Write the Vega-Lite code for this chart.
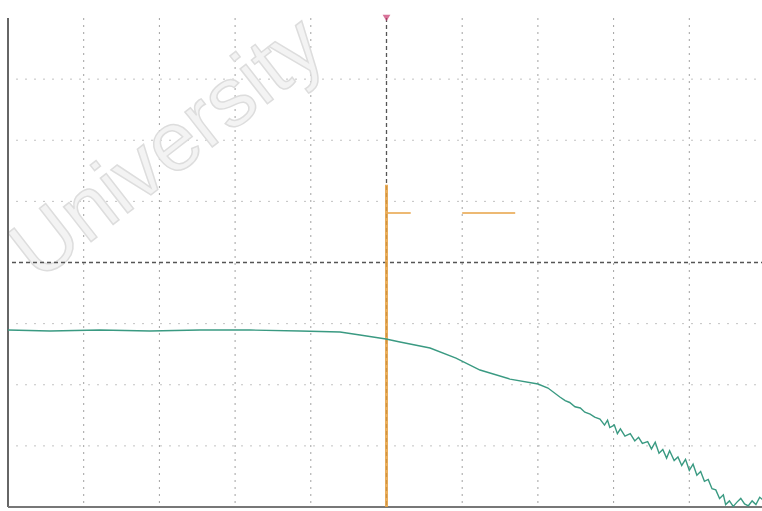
{
  "$schema": "https://vega.github.io/schema/vega-lite/v6.json",
  "width": 757,
  "height": 489,
  "autosize": {"type": "none"},
  "padding": {"left": 8, "top": 18, "right": 0, "bottom": 4},
  "background": "white",
  "config": {"view": {"stroke": null}},
  "datasets": {
    "trace": [
      {"x": 0, "y": -1.105}, {"x": 0.555, "y": -1.121}, {"x": 1.215, "y": -1.105}, {"x": 1.876, "y": -1.121},
      {"x": 2.536, "y": -1.105}, {"x": 3.197, "y": -1.105}, {"x": 3.857, "y": -1.121}, {"x": 4.386, "y": -1.137},
      {"x": 4.65, "y": -1.186}, {"x": 4.993, "y": -1.252}, {"x": 5.178, "y": -1.301}, {"x": 5.575, "y": -1.399},
      {"x": 5.918, "y": -1.563}, {"x": 6.235, "y": -1.759}, {"x": 6.631, "y": -1.907}, {"x": 7.001, "y": -1.988},
      {"x": 7.133, "y": -2.054}, {"x": 7.29, "y": -2.2}, {"x": 7.36, "y": -2.26}, {"x": 7.42, "y": -2.29},
      {"x": 7.49, "y": -2.36}, {"x": 7.56, "y": -2.38}, {"x": 7.62, "y": -2.45}, {"x": 7.69, "y": -2.48},
      {"x": 7.75, "y": -2.53}, {"x": 7.82, "y": -2.56}, {"x": 7.88, "y": -2.66}, {"x": 7.92, "y": -2.58},
      {"x": 7.95, "y": -2.7}, {"x": 8.01, "y": -2.66}, {"x": 8.05, "y": -2.8}, {"x": 8.09, "y": -2.72},
      {"x": 8.15, "y": -2.84}, {"x": 8.22, "y": -2.8}, {"x": 8.28, "y": -2.92}, {"x": 8.33, "y": -2.86},
      {"x": 8.38, "y": -2.96}, {"x": 8.45, "y": -2.93}, {"x": 8.5, "y": -3.05}, {"x": 8.55, "y": -2.94},
      {"x": 8.6, "y": -3.12}, {"x": 8.65, "y": -3.06}, {"x": 8.7, "y": -3.2}, {"x": 8.74, "y": -3.08},
      {"x": 8.8, "y": -3.24}, {"x": 8.85, "y": -3.18}, {"x": 8.9, "y": -3.32}, {"x": 8.95, "y": -3.22},
      {"x": 9.0, "y": -3.4}, {"x": 9.05, "y": -3.3}, {"x": 9.1, "y": -3.48}, {"x": 9.15, "y": -3.42},
      {"x": 9.2, "y": -3.58}, {"x": 9.25, "y": -3.55}, {"x": 9.3, "y": -3.7}, {"x": 9.35, "y": -3.72},
      {"x": 9.4, "y": -3.86}, {"x": 9.45, "y": -3.8}, {"x": 9.48, "y": -3.96}, {"x": 9.53, "y": -3.9},
      {"x": 9.58, "y": -3.99}, {"x": 9.63, "y": -3.92}, {"x": 9.68, "y": -3.86}, {"x": 9.73, "y": -3.95},
      {"x": 9.78, "y": -3.98}, {"x": 9.83, "y": -3.9}, {"x": 9.88, "y": -3.96}, {"x": 9.93, "y": -3.84},
      {"x": 9.97, "y": -3.88}
    ],
    "vgrid": [{"x": 1}, {"x": 2}, {"x": 3}, {"x": 4}, {"x": 6}, {"x": 7}, {"x": 8}, {"x": 9}],
    "hgrid": [{"y": -3}, {"y": -2}, {"y": -1}, {"y": 1}, {"y": 2}, {"y": 3}],
    "orangeH": [{"x": 5.0, "x2": 5.32, "y": 0.81}, {"x": 6.0, "x2": 6.7, "y": 0.81}]
  },
  "layer": [
    {
      "data": {"name": "vgrid"},
      "mark": {"type": "rule", "color": "#8a8a8a", "strokeDash": [2, 5], "strokeWidth": 1, "opacity": 0.8},
      "encoding": {"x": {"field": "x", "type": "quantitative", "scale": {"domain": [0, 10]}, "axis": null}}
    },
    {
      "data": {"name": "hgrid"},
      "mark": {"type": "rule", "color": "#9a9a9a", "strokeDash": [2, 7], "strokeWidth": 1, "opacity": 0.6},
      "encoding": {"y": {"field": "y", "type": "quantitative", "scale": {"domain": [-4, 4]}, "axis": null}}
    },
    {
      "data": {"values": [{"label": "University", "x": 2.12, "y": 1.85}]},
      "mark": {"type": "text", "fontSize": 84, "font": "Liberation Sans", "angle": 322, "fill": "#f3f3f3", "stroke": "#dddddd", "strokeWidth": 1.5, "align": "center", "baseline": "middle"},
      "encoding": {
        "x": {"field": "x", "type": "quantitative", "scale": {"domain": [0, 10]}, "axis": null},
        "y": {"field": "y", "type": "quantitative", "scale": {"domain": [-4, 4]}, "axis": null},
        "text": {"field": "label"}
      }
    },
    {
      "data": {"values": [{"y": 0}]},
      "mark": {"type": "rule", "color": "#555555", "strokeDash": [4, 3], "strokeWidth": 1.3},
      "encoding": {"y": {"field": "y", "type": "quantitative", "scale": {"domain": [-4, 4]}, "axis": null}}
    },
    {
      "data": {"values": [{"x": 5}]},
      "mark": {"type": "rule", "color": "#555555", "strokeDash": [4, 3], "strokeWidth": 1.3},
      "encoding": {"x": {"field": "x", "type": "quantitative", "scale": {"domain": [0, 10]}, "axis": null}}
    },
    {
      "data": {"values": [{"x": 0}]},
      "mark": {"type": "rule", "color": "#666666", "strokeWidth": 2},
      "encoding": {"x": {"field": "x", "type": "quantitative", "scale": {"domain": [0, 10]}, "axis": null}}
    },
    {
      "data": {"values": [{"y": -4}]},
      "mark": {"type": "rule", "color": "#777777", "strokeWidth": 2},
      "encoding": {"y": {"field": "y", "type": "quantitative", "scale": {"domain": [-4, 4]}, "axis": null}}
    },
    {
      "data": {"values": [{"x": 5, "y": 1.27, "y2": -4}]},
      "mark": {"type": "rule", "color": "#e6a040", "strokeWidth": 3, "opacity": 0.85},
      "encoding": {
        "x": {"field": "x", "type": "quantitative", "scale": {"domain": [0, 10]}, "axis": null},
        "y": {"field": "y", "type": "quantitative", "scale": {"domain": [-4, 4]}, "axis": null},
        "y2": {"field": "y2"}
      }
    },
    {
      "data": {"name": "orangeH"},
      "mark": {"type": "rule", "color": "#e8a850", "strokeWidth": 2, "opacity": 0.8},
      "encoding": {
        "x": {"field": "x", "type": "quantitative", "scale": {"domain": [0, 10]}, "axis": null},
        "x2": {"field": "x2"},
        "y": {"field": "y", "type": "quantitative", "scale": {"domain": [-4, 4]}, "axis": null}
      }
    },
    {
      "data": {"name": "trace"},
      "mark": {"type": "line", "color": "#3a9a82", "strokeWidth": 1.4, "interpolate": "linear"},
      "encoding": {
        "x": {"field": "x", "type": "quantitative", "scale": {"domain": [0, 10]}, "axis": null},
        "y": {"field": "y", "type": "quantitative", "scale": {"domain": [-4, 4]}, "axis": null},
        "order": {"field": "x"}
      }
    },
    {
      "data": {"values": [{"x": 5, "y": 4}]},
      "mark": {"type": "point", "shape": "triangle-down", "filled": true, "color": "#c8386e", "size": 60},
      "encoding": {
        "x": {"field": "x", "type": "quantitative", "scale": {"domain": [0, 10]}, "axis": null},
        "y": {"field": "y", "type": "quantitative", "scale": {"domain": [-4, 4]}, "axis": null}
      }
    }
  ]
}
